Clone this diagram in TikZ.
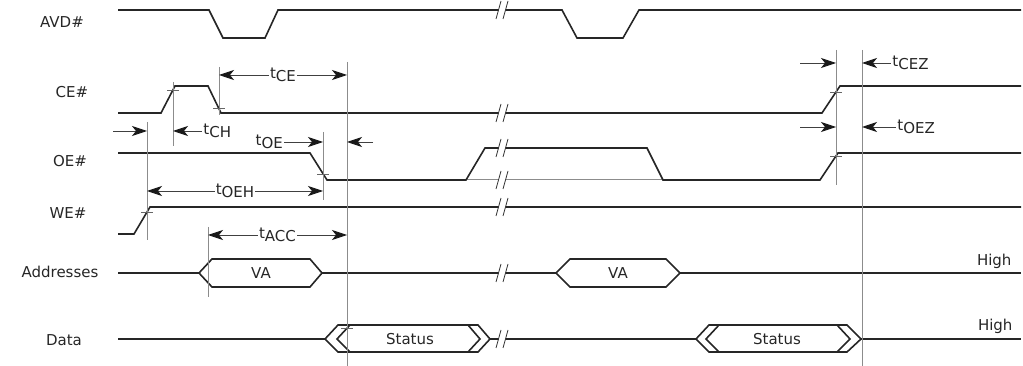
\documentclass[tikz,border=0pt]{standalone}
\usepackage{fontspec}
\setmainfont{DejaVu Sans}
\usetikzlibrary{arrows.meta}
% subscript the way the timing sheet prints it
\newcommand{\tsub}[1]{t\raisebox{-3pt}{#1}}
\tikzset{
    %Define standard arrow tip
    tip/.tip={Stealth[length=15pt,width=10pt,inset=4pt,color=black!90]},
    >=tip,
    %Define style for signal traces
    wave/.style={
           line width=1.6pt,
           draw=black!85,
           line join=miter},
    %Define style for vertical reference lines
    guide/.style={
           line width=1pt,
           draw=black!45},
    % Define dimension arrow style
    dim/.style={
           line width=0.9pt,
           draw=black!75},
    tick/.style={
           line width=0.8pt,
           draw=black!60},
    brk/.style={
           line width=0.8pt,
           draw=black!80},
    signame/.style={
           text=black!85},
    dimlabel/.style={
           fill=white,
           inner sep=1pt,
           text=black!85},
    busname/.style={
           text=black!85}
}

\begin{document}
\begin{tikzpicture}[x=1pt,y=-1pt,font=\fontsize{15}{18}\selectfont]
\useasboundingbox (0,0) rectangle (1023,366);
% signal names
\node[signame] (avd) at (62,22) {AVD\#};
\node[signame] (ce) at (72,92) {CE\#};
\node[signame] (oe) at (70,161) {OE\#};
\node[signame] (we) at (68,213) {WE\#};
\node[signame] (addr) at (60,272) {Addresses};
\node[signame] (data) at (64,340) {Data};
% traces
\draw[wave] (118,10) -- (209,10) -- (223,38) -- (265,38) -- (278,10) -- (562,10) -- (577,38) -- (623,38) -- (639,10) -- (1021,10);
\draw[wave] (118,113) -- (161,113) -- (175,86) -- (208,86) -- (221,113) -- (822,113) -- (840,86) -- (1021,86);
\draw[guide] (466,180) -- (663,180);
\draw[wave] (118,153) -- (310,153) -- (327,180) -- (466,180) -- (485,148) -- (647,148) -- (663,180) -- (820,180) -- (838,153) -- (1021,153);
\draw[wave] (118,234) -- (134,234) -- (150,207) -- (1021,207);
% address bus
\draw[wave] (118,273) -- (199,273);
\draw[wave] (199,273) -- (212,259) -- (310,259) -- (322,273) -- (310,287) -- (212,287) -- cycle;
\draw[wave] (322,273) -- (556,273);
\draw[wave] (556,273) -- (570,259) -- (666,259) -- (680,273) -- (666,287) -- (570,287) -- cycle;
\draw[wave] (680,273) -- (1021,273);
\node[busname] (va1) at (261,273) {VA};
\node[busname] (va2) at (618,273) {VA};
\node[busname, anchor=east] (hi1) at (1015,261) {High};
% data bus
\draw[wave] (118,339) -- (325,339);
\draw[wave] (325,339) -- (338,325) -- (478,325) -- (490,339) -- (478,352) -- (338,352) -- cycle;
\draw[wave] (350,325) -- (337,339) -- (350,352) (468,325) -- (480,339) -- (468,352);
\draw[wave] (490,339) -- (696,339);
\draw[wave] (696,339) -- (709,325) -- (847,325) -- (861,339) -- (847,352) -- (709,352) -- cycle;
\draw[wave] (719,325) -- (706,339) -- (719,352) (837,325) -- (850,339) -- (837,352);
\draw[wave] (861,339) -- (1021,339);
\node[busname] (st1) at (410,339) {Status};
\node[busname] (st2) at (777,339) {Status};
\node[busname, anchor=east] (hi2) at (1016,326) {High};
% breaks
\foreach \y in {10,113,148,180,207,273,339} {
    \fill[white] (497,\y+7) -- (503.5,\y+7) -- (507.5,\y-7) -- (501,\y-7) -- cycle;
    \draw[brk] (496,\y+9) -- (501,\y-9) (503,\y+9) -- (508,\y-9);
}
% reference lines
\draw[guide] (147,122) -- (147,240);
\draw[guide] (173,82) -- (173,146);
\draw[guide] (219,67) -- (219,115);
\draw[guide] (323,132) -- (323,200);
\draw[guide] (347,62) -- (347,366);
\draw[guide] (208,227) -- (208,297);
\draw[guide] (836,50) -- (836,185);
\draw[guide] (862,50) -- (862,366);
\foreach \x/\y in {173/90, 219/108, 323/174, 147/212, 836/92, 836/156, 347/328}
    \draw[tick] (\x-6,\y) -- (\x+6,\y);
% timing parameters
\draw[dim,<->] (219,75) -- node[dimlabel] (tce) {\tsub{CE}} (347,75);
\draw[dim,->] (113,131) -- (147,131);
\draw[dim,<-] (173,131) -- (202,131) node[dimlabel, right] (tch) {\tsub{CH}};
\node[dimlabel, left] (toe) at (284,142) {\tsub{OE}};
\draw[dim,->] (toe.east) -- (323,142);
\draw[dim,->] (373,142) -- (347,142);
\draw[dim,<->] (147,191) -- node[dimlabel] (toeh) {\tsub{OEH}} (323,191);
\draw[dim,<->] (208,235) -- node[dimlabel] (tacc) {\tsub{ACC}} (347,235);
\draw[dim,->] (800,63) -- (836,63);
\draw[dim,<-] (862,63) -- (891,63) node[dimlabel, right] (tcez) {\tsub{CEZ}};
\draw[dim,->] (800,127) -- (836,127);
\draw[dim,<-] (862,127) -- (896,127) node[dimlabel, right] (toez) {\tsub{OEZ}};
\end{tikzpicture}
\end{document}
